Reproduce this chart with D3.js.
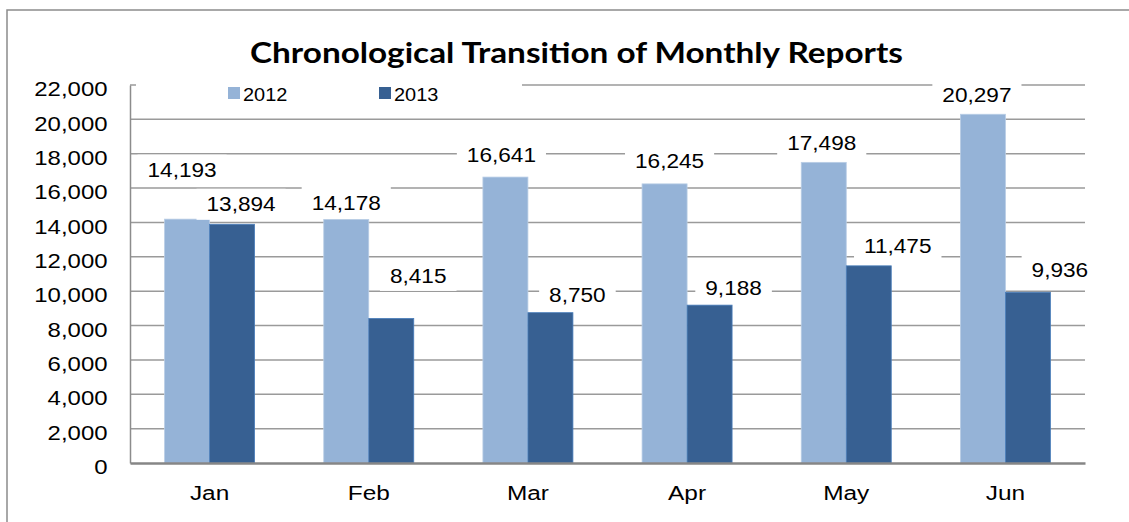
<!DOCTYPE html>
<html>
<head>
<meta charset="utf-8">
<script src="https://cdn.jsdelivr.net/npm/d3@7"></script>
<style>
  body { margin: 0; background: #fff; }
  svg { display: block; }
</style>
</head>
<body>
<div id="chart"></div>
<script>
// data
const months = ["Jan", "Feb", "Mar", "Apr", "May", "Jun"];
const seriesNames = ["2012", "2013"];
const values2012 = [14193, 14178, 16641, 16245, 17498, 20297];
const values2013 = [13894, 8415, 8750, 9188, 11475, 9936];
const yTicks = [0, 2000, 4000, 6000, 8000, 10000, 12000, 14000, 16000, 18000, 20000, 22000];

// manual label nudges (px) from the default spot above each bar, as placed in the original
const nudge2012 = [[-5, -49], [0, -17], [-4, -22], [5, -23], [-2, -20], [-6, -19]];
const nudge2013 = [[9, -20], [27, -43], [27, -18], [24, -17], [29, -20], [32, -22]];

const width = 1129, height = 522;
const margin = {top: 85, right: 44, bottom: 59, left: 130};
const colors = {"2012": "#95B3D7", "2013": "#376092"};
const strokes = {"2012": "#B9CDE5", "2013": "#4A7EBB"};
const fontSans = "'Liberation Sans', Arial, sans-serif";

const svg = d3.select("#chart").append("svg")
    .attr("width", width)
    .attr("height", height);

// stretch text a bit wider, the original glyphs are wider than Arial
function stretch(sel, k) {
    sel.each(function() {
        const w = this.getComputedTextLength();
        d3.select(this).attr("textLength", w * k).attr("lengthAdjust", "spacingAndGlyphs");
    });
}

// outer chart border (only top and left edges show)
svg.append("path")
    .attr("d", "M7,600V10H1200")
    .attr("fill", "none")
    .attr("stroke", "#8c8c8c")
    .attr("stroke-width", 1.5);

let x0 = d3.scaleBand()
    .domain(months)
    .range([margin.left, width - margin.right])
    .paddingInner(0.4345)
    .paddingOuter(0.4345 / 2);

let x1 = d3.scaleBand()
    .domain(seriesNames)
    .range([0, x0.bandwidth()]);

let y = d3.scaleLinear()
    .domain([0, 22000])
    .range([height - margin.bottom, margin.top]);

// gridlines
svg.append("g")
    .selectAll("line")
    .data(yTicks.filter(d => d > 0))
    .enter()
    .append("line")
        .attr("x1", margin.left)
        .attr("x2", width - margin.right)
        .attr("y1", d => y(d))
        .attr("y2", d => y(d))
        .attr("stroke", "#9a9a9a")
        .attr("stroke-width", 1.5);

// y axis
let yAxis = d3.axisLeft(y)
    .tickValues(yTicks)
    .tickFormat(d3.format(","))
    .tickSize(0)
    .tickPadding(0);

let gy = svg.append("g")
    .attr("transform", "translate(" + margin.left + ",0)")
    .call(yAxis);
gy.select(".domain").attr("stroke", "#8c8c8c").attr("stroke-width", 1.5);
gy.selectAll("text")
    .attr("x", -22.5)
    .attr("dy", null)
    .attr("y", 10.7)
    .style("font-family", fontSans)
    .style("font-size", "21px")
    .attr("fill", "#000")
    .call(stretch, 1.14);

// bars
let rows = months.map((m, i) => ({month: m, i: i, vals: [values2012[i], values2013[i]]}));

let groups = svg.append("g")
    .selectAll("g")
    .data(rows)
    .enter()
    .append("g")
        .attr("transform", d => "translate(" + x0(d.month) + ",0)");

groups.selectAll("rect")
    .data(d => seriesNames.map((s, j) => ({series: s, value: d.vals[j]})))
    .enter()
    .append("rect")
        .attr("x", d => x1(d.series))
        .attr("width", x1.bandwidth())
        .attr("y", d => y(d.value))
        .attr("height", d => y(0) - y(d.value))
        .attr("fill", d => colors[d.series])
        .attr("stroke", d => strokes[d.series])
        .attr("stroke-width", 0.8);

// x axis
let xAxis = d3.axisBottom(x0).tickSize(0).tickPadding(0);
let gx = svg.append("g")
    .attr("transform", "translate(0," + y(0) + ")")
    .call(xAxis);
gx.select(".domain").attr("stroke", "#868686").attr("stroke-width", 2.5);
gx.selectAll("text")
    .attr("y", 37)
    .attr("dy", null)
    .style("font-family", fontSans)
    .style("font-size", "20px")
    .attr("fill", "#000")
    .call(stretch, 1.22);

// data labels with white boxes
let labels = [];
months.forEach(function(m, i) {
    [values2012[i], values2013[i]].forEach(function(v, j) {
        let nd = j === 0 ? nudge2012[i] : nudge2013[i];
        labels.push({
            value: v,
            cx: x0(m) + x1(seriesNames[j]) + x1.bandwidth() / 2 + nd[0],
            cy: y(v) + nd[1]
        });
    });
});

let lg = svg.append("g")
    .selectAll("g")
    .data(labels)
    .enter()
    .append("g");

lg.append("rect").attr("fill", "#fff");
lg.append("text")
    .attr("x", d => d.cx)
    .attr("y", d => d.cy + 7.2)
    .attr("text-anchor", "middle")
    .style("font-family", fontSans)
    .style("font-size", "20px")
    .attr("fill", "#000")
    .text(d => d3.format(",")(d.value))
    .call(stretch, 1.13);

lg.each(function(d) {
    let t = d3.select(this).select("text");
    let w = +t.attr("textLength");
    d3.select(this).select("rect")
        .attr("x", d.cx - w / 2 - 10)
        .attr("y", d.cy - 15.5)
        .attr("width", w + 20)
        .attr("height", 31);
});

// legend
let legend = svg.append("g");
legend.append("rect")
    .attr("x", 136).attr("y", 74)
    .attr("width", 386).attr("height", 26)
    .attr("fill", "#fff");

let legendX = [228, 379];
let li = legend.selectAll("g.item")
    .data(seriesNames)
    .enter()
    .append("g")
        .attr("class", "item")
        .attr("transform", (d, i) => "translate(" + legendX[i] + ",87)");
li.append("rect")
    .attr("width", 12).attr("height", 12)
    .attr("fill", d => colors[d]);
li.append("text")
    .attr("x", 15)
    .attr("y", 13.5)
    .style("font-family", fontSans)
    .style("font-size", "19px")
    .attr("fill", "#000")
    .text(d => d)
    .call(stretch, 1.05);

// title
svg.append("text")
    .attr("x", 576.5)
    .attr("y", 63)
    .attr("text-anchor", "middle")
    .style("font-family", "Lato, 'Open Sans', sans-serif")
    .style("font-weight", "bold")
    .style("font-size", "28px")
    .attr("textLength", 653)
    .attr("lengthAdjust", "spacingAndGlyphs")
    .attr("fill", "#000")
    .text("Chronological Transition of Monthly Reports");
</script>
</body>
</html>
